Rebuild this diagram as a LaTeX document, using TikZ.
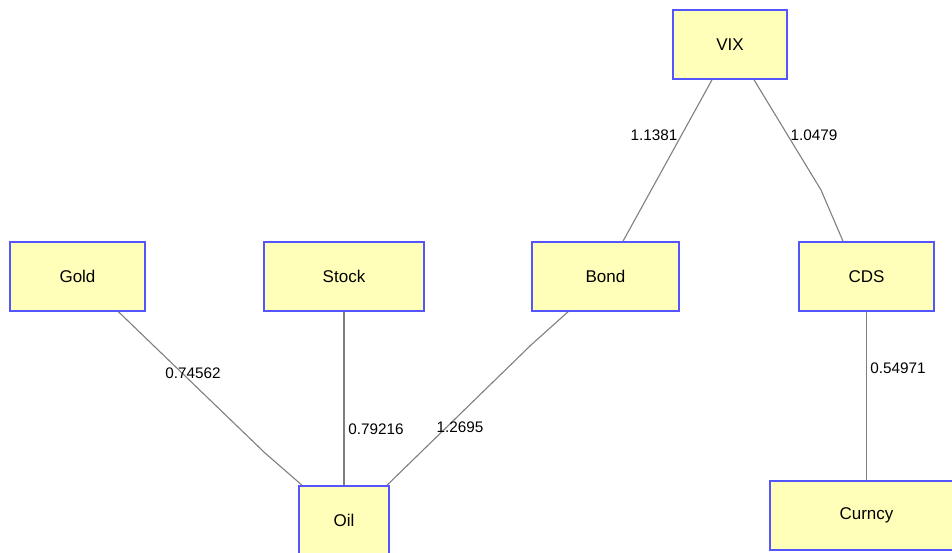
\documentclass[tikz,border=0pt]{standalone}
\usepackage{fontspec}
\setmainfont{Liberation Sans}
\definecolor{boxfill}{HTML}{FFFFB9}
\definecolor{boxline}{HTML}{5555FF}
\definecolor{edgecol}{HTML}{7F7F7F}
\tikzset{
  box/.style={draw=boxline, fill=boxfill, line width=1.6pt, rectangle, inner sep=0pt,
    font=\fontsize{17}{19}\selectfont},
  edge/.style={draw=edgecol, line width=1.1pt},
  lbl/.style={inner sep=0pt, font=\fontsize{15.3}{17}\selectfont}
}
\begin{document}
\begin{tikzpicture}[x=1pt,y=1pt]
\useasboundingbox (0,0) rectangle (952,-552);
\node[box, minimum width=114pt, minimum height=69pt] (vix) at (730,-44.5) {VIX};
\node[box, minimum width=135pt, minimum height=69pt] (gold) at (77.5,-276.5) {Gold};
\node[box, minimum width=160pt, minimum height=69pt] (stock) at (344,-276.5) {Stock};
\node[box, minimum width=147pt, minimum height=69pt] (bond) at (605.5,-276.5) {Bond};
\node[box, minimum width=135pt, minimum height=69pt] (cds) at (866.5,-276.5) {CDS};
\node[box, minimum width=90pt, minimum height=69pt] (oil) at (344,-520.5) {Oil};
\node[box, minimum width=193pt, minimum height=69pt] (curncy) at (866.5,-515.5) {Curncy};
\coordinate (b1) at (265,-453);
\coordinate (b2) at (531,-345);
\coordinate (b3) at (821,-190);
\draw[edge] ([xshift=41pt]gold.south) -- (b1) -- ([xshift=-42pt]oil.north);
\draw[edge] (stock.south) -- (oil.north);
\draw[edge] ([xshift=-37.5pt]bond.south) -- (b2) -- ([xshift=43pt]oil.north);
\draw[edge] ([xshift=-18pt]vix.south) -- ([xshift=17.5pt]bond.north);
\draw[edge] ([xshift=24pt]vix.south) -- (b3) -- ([xshift=-23.5pt]cds.north);
\draw[edge] (cds.south) -- (curncy.north);
\node[lbl] (l1) at (193,-373) {0.74562};
\node[lbl] (l2) at (376,-429) {0.79216};
\node[lbl] (l3) at (460,-427) {1.2695};
\node[lbl] (l4) at (654,-135) {1.1381};
\node[lbl] (l5) at (814,-135) {1.0479};
\node[lbl] (l6) at (898,-368) {0.54971};
\end{tikzpicture}
\end{document}
